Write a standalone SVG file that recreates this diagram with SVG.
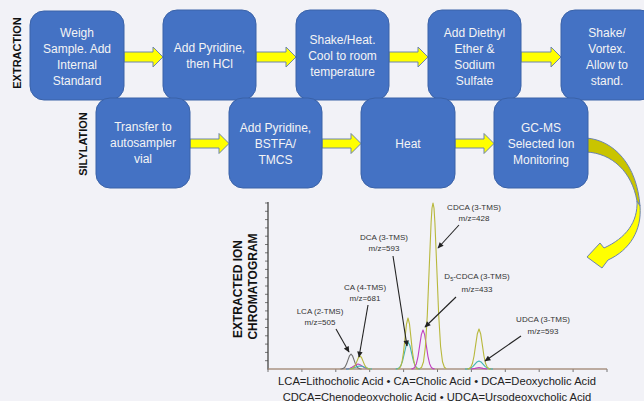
<svg xmlns="http://www.w3.org/2000/svg" width="644" height="401" viewBox="0 0 644 401">
<style>
.box{fill:#4472c4;stroke:#3a62a8;stroke-width:1}
.bt{font-family:"Liberation Sans",Arial,sans-serif;font-size:12px;fill:#f4f4f4;text-anchor:middle}
.blk{fill:#ffff00;stroke:#6d84ad;stroke-width:1}
.sec{font-family:"Liberation Sans",Arial,sans-serif;font-size:11px;font-weight:bold;fill:#111;text-anchor:middle}
.ax{font-family:"Liberation Sans",Arial,sans-serif;font-size:12px;font-weight:bold;fill:#111;text-anchor:middle}
.lb{font-family:"Liberation Sans",Arial,sans-serif;font-size:8px;fill:#333;text-anchor:middle}
.lg{font-family:"Liberation Sans",Arial,sans-serif;font-size:11.2px;fill:#222;text-anchor:middle}
.pk{fill:none;stroke-width:1.1;stroke-linejoin:round}
.ol{stroke:#b8b83c}.cy{stroke:#3fb3b3}.mg{stroke:#c040c0}.gy{stroke:#707070}
.ann{stroke:#222;stroke-width:1.1;fill:none;marker-end:url(#ah)}
.tick{stroke:#555;stroke-width:0.8}
</style>
<defs>
<marker id="ah" viewBox="0 0 10 10" refX="9" refY="5" markerWidth="7" markerHeight="6" orient="auto" markerUnits="userSpaceOnUse"><path d="M0,0.5 L10,5 L0,9.5 Z" fill="#222"/></marker>
</defs>
<rect width="644" height="401" fill="#f2f2f7"/>

<text class="sec" transform="translate(21,53) rotate(-90)">EXTRACTION</text>
<text class="sec" transform="translate(87,144) rotate(-90)">SILYLATION</text>

<g id="connectors">
<path class="blk" d="M124,52 L153,52 L153,47 L163,57 L153,67 L153,62 L124,62 Z"/>
<path class="blk" d="M256,52 L286,52 L286,47 L296,57 L286,67 L286,62 L256,62 Z"/>
<path class="blk" d="M389,52 L418,52 L418,47 L428,57 L418,67 L418,62 L389,62 Z"/>
<path class="blk" d="M521,52 L551,52 L551,47 L561,57 L551,67 L551,62 L521,62 Z"/>
<path class="blk" d="M190,139 L219,139 L219,133.5 L229,143.5 L219,153.5 L219,148 L190,148 Z"/>
<path class="blk" d="M322,139 L351,139 L351,133.5 L361,143.5 L351,153.5 L351,148 L322,148 Z"/>
<path class="blk" d="M455,139 L484,139 L484,133.5 L494,143.5 L484,153.5 L484,148 L455,148 Z"/>
<path d="M586,138 C614,140 637,165 640,206 L637,201 C632,172 612,153 586,152 Z" fill="#c9c400" stroke="#6d84ad" stroke-width="1"/>
<path d="M637,201 C638,222 626,238 604,248 L600,243 L587,257 L602,268 L608,260 C630,250 642,230 640,206 Z" fill="#ffff00" stroke="#6d84ad" stroke-width="1"/>
</g>

<g id="n1"><rect class="box" x="30" y="11" width="94" height="89" rx="14"/>
<text class="bt" x="77" y="37">Weigh</text><text class="bt" x="77" y="53">Sample. Add</text><text class="bt" x="77" y="69">Internal</text><text class="bt" x="77" y="85">Standard</text></g>
<g id="n2"><rect class="box" x="163" y="10" width="93" height="90" rx="14"/>
<text class="bt" x="209.5" y="52">Add Pyridine,</text><text class="bt" x="209.5" y="68">then HCl</text></g>
<g id="n3"><rect class="box" x="296" y="10" width="93" height="90" rx="14"/>
<text class="bt" x="342.5" y="44">Shake/Heat.</text><text class="bt" x="342.5" y="60">Cool to room</text><text class="bt" x="342.5" y="76">temperature</text></g>
<g id="n4"><rect class="box" x="428" y="10" width="93" height="90" rx="14"/>
<text class="bt" x="474.5" y="36.5">Add Diethyl</text><text class="bt" x="474.5" y="52.5">Ether &amp;</text><text class="bt" x="474.5" y="68.5">Sodium</text><text class="bt" x="474.5" y="84.5">Sulfate</text></g>
<g id="n5"><rect class="box" x="561" y="10" width="93" height="90" rx="14"/>
<text class="bt" x="607" y="36.5">Shake/</text><text class="bt" x="607" y="52.5">Vortex.</text><text class="bt" x="607" y="68.5">Allow to</text><text class="bt" x="607" y="84.5">stand.</text></g>

<g id="n6"><rect class="box" x="96" y="98" width="94" height="90" rx="14"/>
<text class="bt" x="143" y="131">Transfer to</text><text class="bt" x="143" y="147">autosampler</text><text class="bt" x="143" y="163">vial</text></g>
<g id="n7"><rect class="box" x="229" y="98" width="93" height="90" rx="14"/>
<text class="bt" x="275.5" y="132">Add Pyridine,</text><text class="bt" x="275.5" y="148">BSTFA/</text><text class="bt" x="275.5" y="164">TMCS</text></g>
<g id="n8"><rect class="box" x="361" y="98" width="94" height="90" rx="14"/>
<text class="bt" x="408" y="148">Heat</text></g>
<g id="n9"><rect class="box" x="494" y="98" width="94" height="90" rx="14"/>
<text class="bt" x="541" y="132">GC-MS</text><text class="bt" x="541" y="148">Selected Ion</text><text class="bt" x="541" y="164">Monitoring</text></g>

<g id="chromatogram">
<text class="ax" transform="translate(242,289) rotate(-90)">EXTRACTED ION</text>
<text class="ax" transform="translate(257,286.5) rotate(-90)">CHROMATOGRAM</text>
<g class="tick">
<line x1="265" y1="203" x2="268" y2="203"/><line x1="265" y1="211.3" x2="268" y2="211.3"/><line x1="265" y1="219.6" x2="268" y2="219.6"/><line x1="265" y1="227.9" x2="268" y2="227.9"/><line x1="265" y1="236.2" x2="268" y2="236.2"/><line x1="265" y1="244.5" x2="268" y2="244.5"/><line x1="265" y1="252.8" x2="268" y2="252.8"/><line x1="265" y1="261.1" x2="268" y2="261.1"/><line x1="265" y1="269.4" x2="268" y2="269.4"/><line x1="265" y1="277.7" x2="268" y2="277.7"/><line x1="265" y1="286" x2="268" y2="286"/><line x1="265" y1="294.3" x2="268" y2="294.3"/><line x1="265" y1="302.6" x2="268" y2="302.6"/><line x1="265" y1="310.9" x2="268" y2="310.9"/><line x1="265" y1="319.2" x2="268" y2="319.2"/><line x1="265" y1="327.5" x2="268" y2="327.5"/><line x1="265" y1="335.8" x2="268" y2="335.8"/><line x1="265" y1="344.1" x2="268" y2="344.1"/><line x1="265" y1="352.4" x2="268" y2="352.4"/><line x1="265" y1="360.7" x2="268" y2="360.7"/>
<line x1="268" y1="369" x2="268" y2="372"/><line x1="301.9" y1="369" x2="301.9" y2="372"/><line x1="335.8" y1="369" x2="335.8" y2="372"/><line x1="369.7" y1="369" x2="369.7" y2="372"/><line x1="403.6" y1="369" x2="403.6" y2="372"/><line x1="437.5" y1="369" x2="437.5" y2="372"/><line x1="471.4" y1="369" x2="471.4" y2="372"/><line x1="505.3" y1="369" x2="505.3" y2="372"/><line x1="539.2" y1="369" x2="539.2" y2="372"/><line x1="573.1" y1="369" x2="573.1" y2="372"/><line x1="607" y1="369" x2="607" y2="372"/>
</g>
<line x1="268" y1="202" x2="268" y2="369.5" stroke="#444" stroke-width="1.3"/>
<line x1="268" y1="369" x2="607" y2="369" stroke="#8a5aa0" stroke-width="1.2"/>
<line x1="268" y1="369" x2="607" y2="369" stroke="#b8b83c" stroke-width="0.6"/>

<path class="pk gy" d="M340.5,369 L342,368.8 L343.5,368.3 L345,367 L346.5,364.1 L348,359.9 L349.5,355.8 L351,354 L352.5,355.8 L354,359.9 L355.5,364.1 L357,367 L358.5,368.3 L360,368.8 L361.5,369"/>
<path class="pk mg" d="M346,369 L348,368.8 L350,368.3 L352,367.3 L354,366 L356,364.8 L358,364 L360,364.8 L362,366 L364,367.3 L366,368.3 L368,368.8 L370,369"/>
<path class="pk cy" d="M346,369 L348,369 L350,368.8 L352,368.4 L354,367.8 L356,367 L358,366.3 L360,366 L362,366.3 L364,367 L366,367.8 L368,368.4 L370,368.8 L372,369"/>
<path class="pk ol" d="M349.5,369 L351,368.9 L352.5,368.4 L354,367.2 L355.5,364.8 L357,361.1 L358.5,357.5 L360,356 L361.5,357.5 L363,361.1 L364.5,364.8 L366,367.2 L367.5,368.4 L369,368.9 L370.5,369"/>

<path class="pk cy" d="M395.75,368.9 L397.5,368.7 L399.25,367.8 L401,365.4 L402.75,360.2 L404.5,352.6 L406.25,345.2 L408,342 L409.75,345.2 L411.5,352.6 L413.25,360.2 L415,365.4 L416.75,367.8 L418.5,368.7 L420.25,368.9"/>
<path class="pk ol" d="M397.5,368.9 L399,368.4 L400.5,366.8 L402,362.1 L403.5,352.4 L405,338.1 L406.5,324 L408,318 L409.5,324 L411,338.1 L412.5,352.4 L414,362.1 L415.5,366.8 L417,368.4 L418.5,368.9"/>
<path class="pk mg" d="M411.45,368.9 L413.1,368.6 L414.75,367.3 L416.4,363.7 L418.05,356.3 L419.7,345.4 L421.35,334.6 L423,330 L424.65,334.6 L426.3,345.4 L427.95,356.3 L429.6,363.7 L431.25,367.3 L432.9,368.6 L434.55,368.9"/>
<path class="pk ol" d="M419.7,368.6 L421.6,367.2 L423.5,361.7 L425.4,346.5 L427.3,315.1 L429.2,268.3 L431.1,222.5 L432,208.1 L433,203 L434,208.1 L434.9,222.5 L436.8,268.3 L438.7,315.1 L440.6,346.5 L442.5,361.7 L444.4,367.2 L446.3,368.6"/>

<path class="pk mg" d="M471,369 L475,368.4 L479,367.5 L483,368.4 L487,369"/>
<path class="pk cy" d="M465,369 L467,368.9 L469,368.6 L471,367.9 L473,366.4 L475,364.1 L477,361.9 L479,361 L481,361.9 L483,364.1 L485,366.4 L487,367.9 L489,368.6 L491,368.9 L493,369"/>
<path class="pk ol" d="M467.45,368.9 L469.1,368.6 L470.75,367.2 L472.4,363.6 L474.05,356 L475.7,344.7 L477.35,333.7 L479,329 L480.65,333.7 L482.3,344.7 L483.95,356 L485.6,363.6 L487.25,367.2 L488.9,368.6 L490.55,368.9"/>

<text class="lb" x="320" y="314">LCA (2-TMS)</text><text class="lb" x="320" y="325">m/z=505</text>
<text class="lb" x="365" y="290">CA (4-TMS)</text><text class="lb" x="365" y="301">m/z=681</text>
<text class="lb" x="384" y="240">DCA (3-TMS)</text><text class="lb" x="384" y="251">m/z=593</text>
<text class="lb" x="474" y="210">CDCA (3-TMS)</text><text class="lb" x="474" y="221">m/z=428</text>
<text class="lb" x="477" y="279">D<tspan font-size="5.5" dy="2">5</tspan><tspan dy="-2">-CDCA (3-TMS)</tspan></text><text class="lb" x="477" y="292">m/z=433</text>
<text class="lb" x="543" y="322">UDCA (3-TMS)</text><text class="lb" x="543" y="334">m/z=593</text>
</g>

<g id="annotations">
<path class="ann" d="M336,329 L349,352"/>
<path class="ann" d="M368,305 L359,357"/>
<path class="ann" d="M393,256 L407,346"/>
<path class="ann" d="M459,225 L438,248"/>
<path class="ann" d="M456,297 L425,327"/>
<path class="ann" d="M521,336 L485,361"/>
</g>

<text class="lg" x="437" y="385">LCA=Lithocholic Acid • CA=Cholic Acid • DCA=Deoxycholic Acid</text>
<text class="lg" x="437" y="400.5">CDCA=Chenodeoxycholic Acid • UDCA=Ursodeoxycholic Acid</text>
</svg>
